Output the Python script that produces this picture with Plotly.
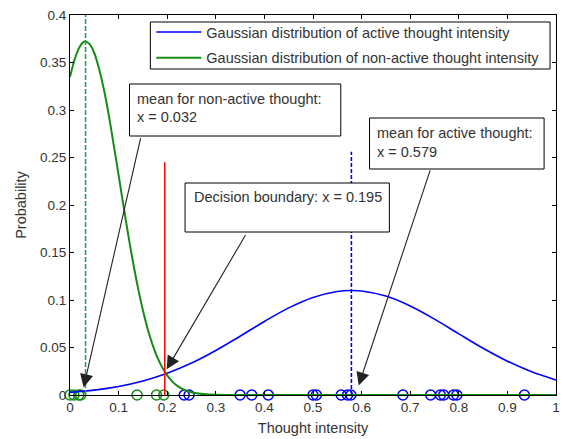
import plotly.graph_objects as go

# ---------------- data ----------------
active_x = [0.0, 0.05, 0.10, 0.15, 0.20, 0.25, 0.30, 0.35, 0.40, 0.45, 0.50, 0.55, 0.579,
            0.60, 0.65, 0.70, 0.75, 0.80, 0.85, 0.90, 0.95, 1.0]
active_y = [0.0028, 0.0051, 0.0089, 0.0147, 0.0228, 0.0336, 0.0469, 0.0619, 0.0774, 0.0917,
            0.1027, 0.1090, 0.1100, 0.1095, 0.1041, 0.0937, 0.0799, 0.0644, 0.0492, 0.0356,
            0.0244, 0.0158]

nonactive_x = [0.0, 0.01, 0.02, 0.03, 0.04, 0.05, 0.06, 0.07, 0.08, 0.09, 0.10, 0.11, 0.12,
               0.13, 0.14, 0.15, 0.16, 0.17, 0.18, 0.19, 0.20, 0.21, 0.22, 0.23, 0.24, 0.25,
               0.26, 0.28, 0.30, 0.32, 0.5, 0.75, 1.0]
nonactive_y = [0.335, 0.354, 0.3665, 0.372, 0.3696, 0.360, 0.343, 0.321, 0.294, 0.263, 0.2315,
               0.1993, 0.1681, 0.1389, 0.1125, 0.0892, 0.0693, 0.0528, 0.0393, 0.0288, 0.0206,
               0.0144, 0.0099, 0.0067, 0.0044, 0.0028, 0.0018, 0.0007, 0.0002, 0.0, 0.0, 0.0, 0.0]

active_samples = [0.235, 0.245, 0.350, 0.374, 0.408, 0.500, 0.507, 0.558, 0.571, 0.578,
                  0.685, 0.742, 0.762, 0.769, 0.789, 0.796, 0.935]
nonactive_samples = [0.0, 0.008, 0.018, 0.022, 0.138, 0.178, 0.193]

mean_active = 0.579
mean_nonactive = 0.032
decision_boundary = 0.195
mean_active_line_top = 0.256
mean_nonactive_line_top = 0.4
decision_line_top = 0.245

x_ticks = [0, 0.1, 0.2, 0.3, 0.4, 0.5, 0.6, 0.7, 0.8, 0.9, 1]
x_ticktext = ["0", "0.1", "0.2", "0.3", "0.4", "0.5", "0.6", "0.7", "0.8", "0.9", "1"]
y_ticks = [0, 0.05, 0.1, 0.15, 0.2, 0.25, 0.3, 0.35, 0.4]
y_ticktext = ["0", "0.05", "0.1", "0.15", "0.2", "0.25", "0.3", "0.35", "0.4"]

legend_names = ["Gaussian distribution of active thought intensity",
                "Gaussian distribution of non-active thought intensity"]

# ---------------- styles ----------------
BLUE = "#0000ff"
GREEN = "#158c15"
RED = "#ff0000"
FONT = "Liberation Sans, Arial, sans-serif"
TXT = "#333333"

fig = go.Figure()

fig.add_trace(go.Scatter(x=active_samples, y=[0] * len(active_samples), mode="markers",
                         marker=dict(symbol="circle-open", size=10, color=BLUE,
                                     line=dict(width=1.5, color=BLUE)),
                         showlegend=False, cliponaxis=False, hoverinfo="skip"))
fig.add_trace(go.Scatter(x=nonactive_samples, y=[0] * len(nonactive_samples), mode="markers",
                         marker=dict(symbol="circle-open", size=10, color=GREEN,
                                     line=dict(width=1.5, color=GREEN)),
                         showlegend=False, cliponaxis=False, hoverinfo="skip"))

fig.add_trace(go.Scatter(x=active_x, y=active_y, mode="lines", name=legend_names[0],
                         legendgroup="a",
                         line=dict(color=BLUE, width=1.6, shape="spline", smoothing=1.0),
                         cliponaxis=False))
fig.add_trace(go.Scatter(x=nonactive_x, y=nonactive_y, mode="lines", name=legend_names[1],
                         legendgroup="b",
                         line=dict(color=GREEN, width=2, shape="spline", smoothing=0.8),
                         cliponaxis=False))

fig.add_trace(go.Scatter(x=[mean_nonactive, mean_nonactive], y=[0, mean_nonactive_line_top],
                         mode="lines", line=dict(color="#2f9a5a", width=1.6, dash="5px,2px"),
                         showlegend=False, hoverinfo="skip"))
fig.add_trace(go.Scatter(x=[mean_active, mean_active], y=[0, mean_active_line_top],
                         mode="lines", line=dict(color=BLUE, width=1.6, dash="4px,2px"),
                         showlegend=False, hoverinfo="skip"))
fig.add_trace(go.Scatter(x=[decision_boundary, decision_boundary], y=[0, decision_line_top],
                         mode="lines", line=dict(color=RED, width=1.5),
                         showlegend=False, hoverinfo="skip"))

# ---------------- layout helpers ----------------
L, R, T, B = 70, 3, 15, 44
W, H = 563, 439
PW, PH = W - L - R, H - T - B


def px(xp):
    return (xp - L) / PW


def py(yp):
    return (H - B - yp) / PH


shapes = []
annotations = []


def rect(x0, y0, x1, y1):
    shapes.append(dict(type="rect", xref="paper", yref="paper", x0=px(x0), x1=px(x1),
                       y0=py(y1), y1=py(y0), line=dict(color="black", width=1),
                       fillcolor="white", layer="above"))


def box(x0, y0, x1, y1, lines, tx, ty0, dy):
    rect(x0, y0, x1, y1)
    for i, t in enumerate(lines):
        annotations.append(dict(xref="paper", yref="paper", x=px(tx), y=py(ty0 + i * dy),
                                xanchor="left", yanchor="middle", text=t, showarrow=False,
                                font=dict(family=FONT, size=14.5, color=TXT)))


# legend frame
rect(151, 22, 554, 69)

box(130, 84, 343, 136, ["mean for non-active thought:", "x = 0.032"], 136, 99, 18)
box(186, 183, 392, 232, ["Decision boundary: x = 0.195"], 193, 197, 18)
box(372, 118, 548, 169, ["mean for active thought:", "x = 0.579"], 378, 133, 19)


def arrow(hx, hy, tx, ty):
    annotations.append(dict(x=hx, y=hy, ax=tx, ay=ty, xref="x", yref="y", axref="x", ayref="y",
                            text="", showarrow=True, arrowhead=2, arrowsize=2.4, arrowwidth=1.1,
                            arrowcolor="#222222", standoff=0, startstandoff=0))


arrow(0.028, 0.008, 0.146, 0.272)
arrow(0.199, 0.027, 0.363, 0.170)
arrow(0.594, 0.010, 0.742, 0.238)

axis_common = dict(showline=True, linecolor="black", linewidth=1, mirror="ticks",
                   ticks="inside", ticklen=4, tickcolor="black", showgrid=False, zeroline=False,
                   ticklabeloverflow="allow",
                   tickfont=dict(family=FONT, size=13.5, color=TXT))

fig.update_layout(
    width=W, height=H, margin=dict(l=L, r=R, t=T, b=B),
    paper_bgcolor="white", plot_bgcolor="white",
    xaxis=dict(range=[0, 1], tickvals=x_ticks, ticktext=x_ticktext,
               title=dict(text="Thought intensity", font=dict(family=FONT, size=14.5, color=TXT),
                          standoff=8), **axis_common),
    yaxis=dict(range=[0, 0.4], tickvals=y_ticks, ticktext=y_ticktext,
               title=dict(text="Probability", font=dict(family=FONT, size=14.5, color=TXT),
                          standoff=9), **axis_common),
    legend=dict(x=px(152), y=py(16), xanchor="left", yanchor="top", bgcolor="rgba(0,0,0,0)",
                borderwidth=0, itemwidth=45, tracegroupgap=4,
                font=dict(family=FONT, size=14.5, color=TXT)),
    shapes=shapes, annotations=annotations, showlegend=True,
)

fig.write_html("out.html")
